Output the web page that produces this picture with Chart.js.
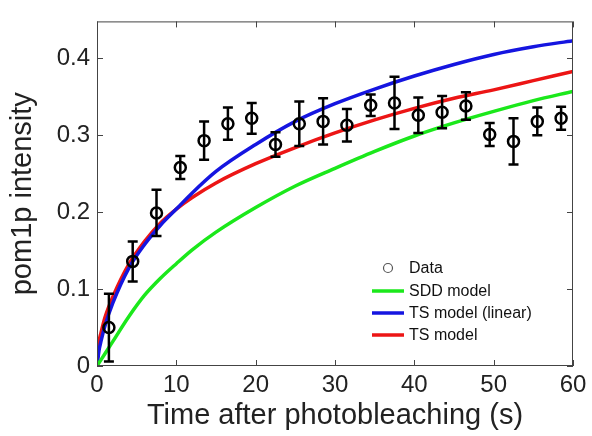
<!DOCTYPE html>
<html>
<head>
<meta charset="utf-8">
<script src="https://cdn.jsdelivr.net/npm/chart.js@4.4.0/dist/chart.umd.min.js"></script>
<style>
  html, body { margin: 0; padding: 0; background: #fff; }
  #wrap { width: 592px; height: 436px; }
</style>
</head>
<body>
<div id="wrap"><canvas id="chart" width="592" height="436"></canvas></div>
<script>
// measured points
const dataTime = [1.5, 4.5, 7.5, 10.5, 13.5, 16.5, 19.5, 22.5, 25.5, 28.5, 31.5, 34.5, 37.5, 40.5, 43.5, 46.5, 49.5, 52.5, 55.5, 58.5];
const dataIntensity = [0.050, 0.136, 0.199, 0.258, 0.293, 0.315, 0.322, 0.288, 0.315, 0.318, 0.313, 0.339, 0.342, 0.326, 0.330, 0.338, 0.301, 0.292, 0.318, 0.322];
const dataError = [0.044, 0.026, 0.030, 0.015, 0.025, 0.021, 0.020, 0.016, 0.029, 0.030, 0.021, 0.014, 0.034, 0.023, 0.021, 0.018, 0.015, 0.030, 0.018, 0.015];

// model curves
const modelTime = [0, 0.25, 0.5, 1, 2, 4, 6, 8, 10, 12, 15, 20, 25, 30, 35, 40, 45, 50, 55, 60];
const sddModel = [0, 0.004, 0.008, 0.016, 0.032, 0.064, 0.092, 0.114, 0.133, 0.151, 0.174, 0.206, 0.234, 0.257, 0.279, 0.299, 0.316, 0.331, 0.345, 0.357];
const tsLinearModel = [0, 0.020, 0.032, 0.052, 0.082, 0.127, 0.158, 0.183, 0.204, 0.225, 0.253, 0.288, 0.318, 0.341, 0.360, 0.377, 0.392, 0.405, 0.415, 0.423];
const tsModel = [0, 0.031, 0.043, 0.063, 0.090, 0.132, 0.162, 0.186, 0.204, 0.219, 0.238, 0.263, 0.284, 0.303, 0.320, 0.335, 0.348, 0.359, 0.371, 0.383];

const xTicks = [0, 10, 20, 30, 40, 50, 60];
const yTicks = [0, 0.1, 0.2, 0.3, 0.4];

const toPoints = (xs, ys) => xs.map((x, i) => ({ x: x, y: ys[i] }));

const lineSet = (label, values, color) => ({
  label: label,
  data: toPoints(modelTime, values),
  showLine: true,
  borderColor: color,
  backgroundColor: color,
  borderWidth: 3.5,
  pointRadius: 0,
  cubicInterpolationMode: 'monotone',
  fill: false
});

// error bars, inward ticks, box and inline legend
const matlabStyle = {
  id: 'matlabStyle',
  afterDatasetsDraw(chart) {
    const ctx = chart.ctx;
    const xs = chart.scales.x, ys = chart.scales.y;
    ctx.save();
    ctx.strokeStyle = '#000';
    ctx.lineWidth = 2.5;
    dataTime.forEach((t, i) => {
      const px = xs.getPixelForValue(t);
      const top = ys.getPixelForValue(dataIntensity[i] + dataError[i]);
      const bot = ys.getPixelForValue(dataIntensity[i] - dataError[i]);
      ctx.beginPath();
      ctx.moveTo(px, top); ctx.lineTo(px, bot);
      ctx.moveTo(px - 5, top); ctx.lineTo(px + 5, top);
      ctx.moveTo(px - 5, bot); ctx.lineTo(px + 5, bot);
      ctx.stroke();
    });
    ctx.restore();
  },
  afterDraw(chart) {
    const ctx = chart.ctx;
    const a = chart.chartArea;
    const xs = chart.scales.x, ys = chart.scales.y;
    ctx.save();
    ctx.strokeStyle = '#444';
    ctx.lineWidth = 1;
    ctx.strokeRect(a.left + 0.5, a.top + 0.5, a.right - a.left - 1, a.bottom - a.top - 1);
    ctx.beginPath();
    xTicks.forEach(v => {
      const px = Math.round(xs.getPixelForValue(v)) + 0.5;
      ctx.moveTo(px, a.bottom); ctx.lineTo(px, a.bottom - 6);
      ctx.moveTo(px, a.top); ctx.lineTo(px, a.top + 6);
    });
    yTicks.forEach(v => {
      const py = Math.round(ys.getPixelForValue(v)) + 0.5;
      ctx.moveTo(a.left, py); ctx.lineTo(a.left + 6, py);
      ctx.moveTo(a.right, py); ctx.lineTo(a.right - 6, py);
    });
    ctx.stroke();

    // legend
    const lx = 372, tx = 409;
    const rows = [268, 291, 313, 335];
    ctx.font = '16px "Liberation Sans", Arial, sans-serif';
    ctx.fillStyle = '#111';
    ctx.textBaseline = 'middle';
    chart.data.datasets.forEach((ds, i) => {
      const y = rows[i];
      if (i === 0) {
        ctx.strokeStyle = '#555';
        ctx.lineWidth = 1.2;
        ctx.beginPath();
        ctx.arc(lx + 16, y, 4.5, 0, Math.PI * 2);
        ctx.stroke();
      } else {
        ctx.strokeStyle = ds.borderColor;
        ctx.lineWidth = 3.5;
        ctx.beginPath();
        ctx.moveTo(lx, y); ctx.lineTo(lx + 32, y);
        ctx.stroke();
      }
      ctx.fillText(ds.label, tx, y + 1);
    });
    ctx.restore();
  }
};

const tickFont = { family: '"Liberation Sans", Arial, sans-serif', size: 24 };
const titleFont = { family: '"Liberation Sans", Arial, sans-serif', size: 29 };

new Chart(document.getElementById('chart'), {
  type: 'scatter',
  data: {
    datasets: [
      {
        label: 'Data',
        data: toPoints(dataTime, dataIntensity),
        showLine: false,
        pointRadius: 5.5,
        pointBorderWidth: 2.5,
        pointBorderColor: '#000',
        pointBackgroundColor: 'rgba(0,0,0,0)'
      },
      lineSet('SDD model', sddModel, '#1be81b'),
      lineSet('TS model (linear)', tsLinearModel, '#1515e0'),
      lineSet('TS model', tsModel, '#ec1515')
    ]
  },
  options: {
    responsive: false,
    animation: false,
    devicePixelRatio: 1,
    layout: { padding: { top: 14, right: 19, left: 0, bottom: 0 } },
    plugins: { legend: { display: false }, tooltip: { enabled: false } },
    scales: {
      x: {
        type: 'linear',
        min: 0,
        max: 60,
        afterFit(scale) { scale.height = 70; },
        afterBuildTicks(scale) { scale.ticks = xTicks.map(v => ({ value: v })); },
        grid: { display: false, drawTicks: false },
        border: { display: false },
        ticks: { font: tickFont, color: '#222', padding: 5, maxRotation: 0 },
        title: { display: true, text: 'Time after photobleaching (s)', font: titleFont, color: '#222', padding: { top: 0, bottom: 3 } }
      },
      y: {
        type: 'linear',
        min: 0,
        max: 0.448,
        afterFit(scale) { scale.width = 97; },
        afterBuildTicks(scale) { scale.ticks = yTicks.map(v => ({ value: v })); },
        grid: { display: false, drawTicks: false },
        border: { display: false },
        ticks: {
          font: tickFont, color: '#222', padding: 7,
          callback: v => (v === 0 ? '0' : v.toFixed(1))
        },
        title: { display: true, text: 'pom1p intensity', font: titleFont, color: '#222', padding: { top: 6, bottom: 0 } }
      }
    }
  },
  plugins: [matlabStyle]
});
</script>
</body>
</html>
